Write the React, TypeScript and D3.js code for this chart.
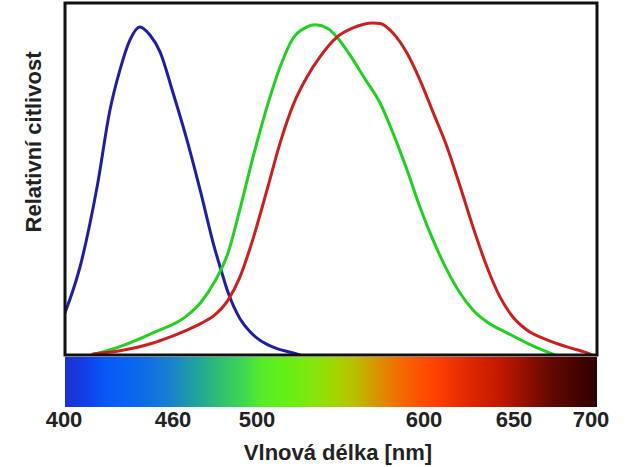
import React from "react";
import * as d3 from "d3";

const W = 631;
const H = 467;

// Wavelength tick labels (nm)
const tickValues = [400, 460, 500, 600, 650, 700];

// Blue cone sensitivity: [wavelength nm, relative sensitivity]
const blueCurve: [number, number][] = [
  [400.5, 0.119], [408.8, 0.25], [418.2, 0.477], [425.3, 0.696], [430.8, 0.81],
  [436.3, 0.895], [441.8, 0.932], [447.3, 0.909], [452.8, 0.862], [460, 0.745],
  [466.7, 0.61], [473.3, 0.46], [479.5, 0.31], [482.9, 0.241], [486.2, 0.178],
  [491.9, 0.103], [496.7, 0.066], [500, 0.048], [506, 0.03], [512, 0.018],
  [521.6, 0.006], [525.7, 0.0],
];

// Green cone sensitivity
const greenCurve: [number, number][] = [
  [417.1, 0.003], [430.8, 0.024], [449, 0.063], [466.7, 0.112], [473.3, 0.15],
  [479.5, 0.205], [486.2, 0.29], [491.9, 0.415], [498.1, 0.562], [506, 0.705],
  [513.8, 0.818], [521.6, 0.9], [529.9, 0.932], [534.7, 0.938], [541.9, 0.929],
  [547.9, 0.903], [555.7, 0.852], [564.7, 0.784], [573.7, 0.716], [581.4, 0.631],
  [589.8, 0.526], [597.6, 0.42], [605, 0.327], [612.8, 0.241], [620, 0.176],
  [627.2, 0.128], [635, 0.094], [646.1, 0.063], [658.4, 0.034], [671.4, 0.009],
  [676.6, 0.0],
];

// Red cone sensitivity
const redCurve: [number, number][] = [
  [416, 0.003], [430.8, 0.012], [449, 0.034], [456.7, 0.048], [466.7, 0.071],
  [473.3, 0.09], [479.5, 0.112], [486.2, 0.156], [491.9, 0.222], [498.1, 0.33],
  [506, 0.469], [513.8, 0.602], [521.6, 0.71], [529.9, 0.79], [537.7, 0.847],
  [547.9, 0.903], [557.5, 0.929], [569.5, 0.943], [573.7, 0.942], [581.4, 0.915],
  [589.8, 0.858], [597.6, 0.781], [605, 0.69], [612.8, 0.591], [620, 0.48],
  [627.2, 0.364], [635, 0.25], [642.2, 0.165], [649.4, 0.108], [658.4, 0.071],
  [671.4, 0.043], [684.4, 0.023], [697.4, 0.006], [700.6, 0.0],
];

// Spectrum colour bar stops: [wavelength nm, colour]
const spectrumStops: [number, string][] = [
  [400, "#2030d0"], [412, "#1040e8"], [423, "#0858f8"], [440, "#0a68ec"],
  [458, "#1880d0"], [470, "#20a0a0"], [483, "#30c070"], [494, "#40d850"],
  [503, "#58ec28"], [517, "#62f014"], [532, "#80e810"], [546, "#a0d800"],
  [558, "#b8c000"], [568, "#d0a000"], [584, "#f07000"], [598, "#ff5000"],
  [607, "#ff4000"], [625, "#e02800"], [643, "#c01800"], [658, "#901000"],
  [675, "#600800"], [704, "#300000"],
];

const plot = { left: 65, right: 597, top: 3, bottom: 355 };
const barTop = 357;
const barBottom = 407;

export default function App() {
  // piecewise-linear wavelength axis as in the original figure
  const x = d3
    .scaleLinear()
    .domain(tickValues)
    .range([64, 173, 257, 424, 514, 591]);
  const y = d3.scaleLinear().domain([0, 1]).range([plot.bottom, plot.top]);

  const line = d3
    .line<[number, number]>()
    .x((d) => x(d[0]))
    .y((d) => y(d[1]))
    .curve(d3.curveMonotoneX);

  const series = [
    { data: blueCurve, color: "#1f1fa6" },
    { data: greenCurve, color: "#22d022" },
    { data: redCurve, color: "#cc1f1f" },
  ];

  const font = "'Liberation Sans', Arial, Helvetica, sans-serif";

  return (
    <svg
      width={W}
      height={H}
      style={{ position: "absolute", left: 0, top: 0, background: "#fff" }}
    >
      <defs>
        <linearGradient
          id="spectrum"
          gradientUnits="userSpaceOnUse"
          x1={plot.left}
          x2={plot.right}
          y1={0}
          y2={0}
        >
          {spectrumStops.map(([wl, c], i) => (
            <stop
              key={i}
              offset={Math.max(
                0,
                Math.min(1, (x(wl) - plot.left) / (plot.right - plot.left))
              )}
              stopColor={c}
            />
          ))}
        </linearGradient>
        <clipPath id="plotClip">
          <rect
            x={plot.left}
            y={plot.top}
            width={plot.right - plot.left}
            height={plot.bottom - plot.top}
          />
        </clipPath>
      </defs>

      <rect
        x={plot.left}
        y={barTop}
        width={plot.right - plot.left}
        height={barBottom - barTop}
        fill="url(#spectrum)"
      />

      <g clipPath="url(#plotClip)">
        {series.map((s, i) => (
          <path
            key={i}
            d={line(s.data) || ""}
            fill="none"
            stroke={s.color}
            strokeWidth={3}
            strokeLinejoin="round"
            strokeLinecap="round"
          />
        ))}
      </g>

      <rect
        x={plot.left}
        y={plot.top}
        width={plot.right - plot.left}
        height={plot.bottom - plot.top}
        fill="none"
        stroke="#111"
        strokeWidth={3}
      />

      {tickValues.map((t) => (
        <text
          key={t}
          x={x(t)}
          y={427}
          textAnchor="middle"
          fontFamily={font}
          fontWeight="bold"
          fontSize={22}
          fill="#222"
        >
          {t}
        </text>
      ))}

      <text
        x={338}
        y={460}
        textAnchor="middle"
        fontFamily={font}
        fontWeight="bold"
        fontSize={22}
        fill="#222"
      >
        Vlnová délka [nm]
      </text>

      <text
        transform={`translate(41,142) rotate(-90)`}
        textAnchor="middle"
        fontFamily={font}
        fontWeight="bold"
        fontSize={22}
        fill="#222"
      >
        Relativní citlivost
      </text>
    </svg>
  );
}
